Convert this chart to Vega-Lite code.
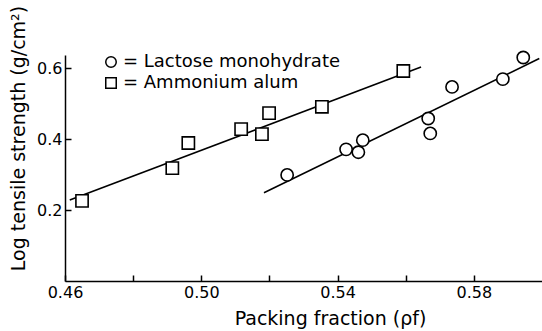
{
  "$schema": "https://vega.github.io/schema/vega-lite/v6.json",
  "autosize": {"type": "none"},
  "width": 477,
  "height": 226,
  "padding": {"left": 65, "top": 55, "right": 0, "bottom": 50},
  "background": "white",
  "config": {
    "view": {"stroke": null},
    "font": "DejaVu Sans",
    "axis": {
      "grid": false,
      "domainColor": "black",
      "domainWidth": 1.5,
      "tickColor": "black",
      "tickWidth": 1.5,
      "labelColor": "black",
      "titleColor": "black",
      "labelFont": "DejaVu Sans",
      "titleFont": "DejaVu Sans",
      "labelFontSize": 16,
      "titleFontSize": 19,
      "titleFontWeight": "normal"
    }
  },
  "datasets": {
    "points": [
      {"material": "Ammonium alum", "pf": 0.4650, "lts": 0.226},
      {"material": "Ammonium alum", "pf": 0.4915, "lts": 0.318},
      {"material": "Ammonium alum", "pf": 0.4962, "lts": 0.389},
      {"material": "Ammonium alum", "pf": 0.5117, "lts": 0.428},
      {"material": "Ammonium alum", "pf": 0.5178, "lts": 0.414},
      {"material": "Ammonium alum", "pf": 0.5199, "lts": 0.473},
      {"material": "Ammonium alum", "pf": 0.5354, "lts": 0.491},
      {"material": "Ammonium alum", "pf": 0.5593, "lts": 0.592},
      {"material": "Lactose monohydrate", "pf": 0.5252, "lts": 0.299},
      {"material": "Lactose monohydrate", "pf": 0.5425, "lts": 0.371},
      {"material": "Lactose monohydrate", "pf": 0.5461, "lts": 0.363},
      {"material": "Lactose monohydrate", "pf": 0.5474, "lts": 0.397},
      {"material": "Lactose monohydrate", "pf": 0.5666, "lts": 0.458},
      {"material": "Lactose monohydrate", "pf": 0.5672, "lts": 0.416},
      {"material": "Lactose monohydrate", "pf": 0.5736, "lts": 0.547},
      {"material": "Lactose monohydrate", "pf": 0.5885, "lts": 0.569},
      {"material": "Lactose monohydrate", "pf": 0.5945, "lts": 0.630}
    ],
    "fits": [
      {"material": "Ammonium alum", "pf": 0.4614, "lts": 0.228},
      {"material": "Ammonium alum", "pf": 0.5645, "lts": 0.603},
      {"material": "Lactose monohydrate", "pf": 0.5184, "lts": 0.249},
      {"material": "Lactose monohydrate", "pf": 0.5992, "lts": 0.627}
    ]
  },
  "encoding": {
    "x": {
      "field": "pf",
      "type": "quantitative",
      "scale": {"domain": [0.46, 0.60], "nice": false, "zero": false},
      "axis": {
        "title": "Packing fraction (ρf)",
        "values": [0.46, 0.48, 0.50, 0.52, 0.54, 0.56, 0.58],
        "labelExpr": "indexof(['0.46','0.50','0.54','0.58'], format(datum.value, '.2f')) >= 0 ? format(datum.value, '.2f') : ''",
        "labelFlush": false,
        "tickSize": -6,
        "labelPadding": 9,
        "titleX": 265,
        "titleY": 37,
        "titleBaseline": "middle"
      }
    },
    "y": {
      "field": "lts",
      "type": "quantitative",
      "scale": {"domain": [0, 0.637], "nice": false, "zero": false},
      "axis": {
        "title": "Log tensile strength (g/cm²)",
        "values": [0.2, 0.4, 0.6],
        "format": ".1f",
        "labelFlush": false,
        "tickSize": -6,
        "labelPadding": 9,
        "titleX": -47,
        "titleY": 83,
        "titleAngle": -90,
        "titleAlign": "center",
        "titleBaseline": "middle"
      }
    }
  },
  "layer": [
    {
      "data": {"name": "fits"},
      "mark": {"type": "line", "color": "black", "strokeWidth": 1.6},
      "encoding": {"detail": {"field": "material"}}
    },
    {
      "data": {"name": "points"},
      "mark": {"type": "point", "filled": false, "color": "black", "fill": "white", "fillOpacity": 1, "strokeWidth": 1.6, "size": 150, "opacity": 1},
      "encoding": {
        "shape": {
          "field": "material",
          "type": "nominal",
          "scale": {"domain": ["Lactose monohydrate", "Ammonium alum"], "range": ["circle", "square"]},
          "legend": {
            "title": null,
            "orient": "none",
            "legendX": 37,
            "legendY": -2,
            "labelExpr": "'= ' + datum.label",
            "labelFontSize": 18,
            "labelFont": "DejaVu Sans",
            "labelColor": "black",
            "labelLimit": 0,
            "symbolSize": 110,
            "rowPadding": 3,
            "labelOffset": 3,
            "encode": {
              "symbols": {
                "update": {
                  "stroke": {"value": "black"},
                  "fill": {"value": "white"},
                  "strokeWidth": {"value": 1.6},
                  "opacity": {"value": 1},
                  "fillOpacity": {"value": 1},
                  "strokeOpacity": {"value": 1}
                }
              }
            }
          }
        }
      }
    }
  ]
}
